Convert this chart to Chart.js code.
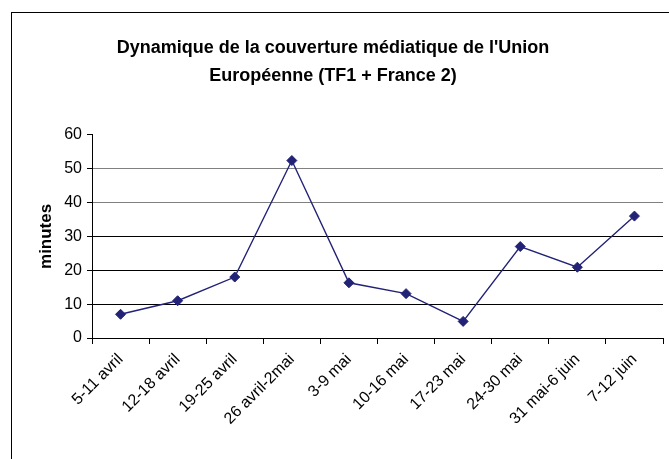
<!DOCTYPE html>
<html>
<head>
<meta charset="utf-8">
<script src="https://cdn.jsdelivr.net/npm/chart.js@4"></script>
<style>
  html, body { margin: 0; padding: 0; background: #fff; }
  #wrap { width: 669px; height: 459px; }
</style>
</head>
<body>
<div id="wrap"><canvas id="chart" width="669" height="459"></canvas></div>
<script>
const WEEKS = [
  "5-11 avril", "12-18 avril", "19-25 avril", "26 avril-2mai", "3-9 mai",
  "10-16 mai", "17-23 mai", "24-30 mai", "31 mai-6 juin", "7-12 juin"
]
const MINUTES = [7, 11, 18, 52.4, 16.3, 13.1, 4.9, 27, 20.9, 36]
const Y_TICKS = [0, 10, 20, 30, 40, 50, 60]

const TITLE = ["Dynamique de la couverture médiatique de l'Union", "Européenne (TF1 + France 2)"]
const FONT = "Arial, 'Liberation Sans', sans-serif"
const NAVY = "#222277"

// outer frame of the Excel chart object, cut off on the right and bottom
const frame = {
  id: "frame",
  beforeDraw(chart) {
    const c = chart.ctx
    c.save()
    c.fillStyle = "#fff"
    c.fillRect(0, 0, chart.width, chart.height)
    c.strokeStyle = "#000"
    c.lineWidth = 1
    c.strokeRect(11.5, 12.5, chart.width + 10, chart.height + 10)
    c.restore()
  }
}

new Chart(document.getElementById("chart"), {
  type: "line",
  data: {
    labels: WEEKS,
    datasets: [{
      data: MINUTES,
      borderColor: NAVY,
      backgroundColor: NAVY,
      borderWidth: 1.4,
      tension: 0,
      pointStyle: "rectRot",
      pointRadius: 5,
      pointBorderWidth: 1
    }]
  },
  options: {
    responsive: false,
    animation: false,
    layout: { padding: { left: 0, right: 3, top: 0, bottom: 0 } },
    plugins: {
      legend: { display: false },
      tooltip: { enabled: false },
      title: {
        display: true,
        text: TITLE,
        color: "#000",
        font: { family: FONT, size: 18, weight: "bold", lineHeight: 1.55 },
        padding: { top: 34, bottom: 45 }
      }
    },
    scales: {
      x: {
        offset: true,
        afterFit: s => { s.height = 121 },
        border: { color: "#000", width: 1 },
        grid: {
          offset: true,
          drawOnChartArea: false,
          drawTicks: true,
          tickLength: 6,
          tickColor: "#000"
        },
        ticks: {
          color: "#000",
          font: { family: FONT, size: 16 },
          minRotation: 45,
          maxRotation: 45,
          autoSkip: false,
          padding: 6
        }
      },
      y: {
        min: 0,
        max: 60,
        afterFit: s => { s.width = 92 },
        afterBuildTicks: s => { s.ticks = Y_TICKS.map(v => ({ value: v })) },
        border: { color: "#000", width: 1 },
        title: {
          display: true,
          text: "minutes",
          color: "#000",
          font: { family: FONT, size: 17, weight: "bold" },
          padding: { top: 36, bottom: 0 }
        },
        grid: {
          color: ctx => {
            const v = ctx.tick ? ctx.tick.value : 0
            if (v === 60) return "rgba(0,0,0,0)"
            return v >= 40 ? "#808080" : "#000"
          },
          tickColor: "#000",
          tickLength: 5,
          lineWidth: 1
        },
        ticks: {
          color: "#000",
          font: { family: FONT, size: 16 },
          padding: 5
        }
      }
    }
  },
  plugins: [frame]
})
</script>
</body>
</html>
